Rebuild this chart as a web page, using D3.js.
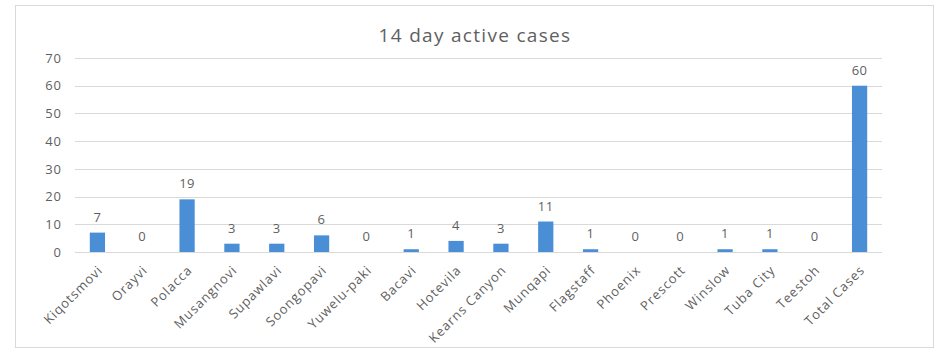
<!DOCTYPE html>
<html>
<head>
<meta charset="utf-8">
<script src="https://cdn.jsdelivr.net/npm/d3@7/dist/d3.min.js"></script>
<style>
  html, body { margin: 0; padding: 0; background: #fff; }
  svg { display: block; }
</style>
</head>
<body>
<svg id="chart" width="940" height="351"></svg>
<script>
// Communities reporting active cases over the last 14 days
const categories = ["Kiqotsmovi", "Orayvi", "Polacca", "Musangnovi", "Supawlavi", "Soongopavi",
  "Yuwelu-paki", "Bacavi", "Hotevila", "Kearns Canyon", "Munqapi", "Flagstaff",
  "Phoenix", "Prescott", "Winslow", "Tuba City", "Teestoh", "Total Cases"];
const cases = [7, 0, 19, 3, 3, 6, 0, 1, 4, 3, 11, 1, 0, 0, 1, 1, 0, 60];
const yTicks = [0, 10, 20, 30, 40, 50, 60, 70];
const chartTitle = "14 day active cases";

const svg = d3.select("#chart");
const W = 940, H = 351;
const margin = { left: 75, right: 58, top: 58, bottom: 99 };
const textColor = "#5f5f5f";
const font = "'Open Sans', 'DejaVu Sans', Arial, sans-serif";

// chart area frame
svg.append("rect")
  .attr("x", 15.5).attr("y", 5.5)
  .attr("width", 918).attr("height", 342)
  .attr("fill", "#fff").attr("stroke", "#d9d9d9").attr("stroke-width", 1);

const x = d3.scaleBand()
  .domain(categories)
  .range([margin.left, W - margin.right])
  .paddingInner(0.66).paddingOuter(0.33);

const y = d3.scaleLinear()
  .domain([0, 70])
  .range([H - margin.bottom, margin.top]);

// horizontal gridlines
svg.append("g")
  .selectAll("line")
  .data(yTicks)
  .join("line")
  .attr("x1", margin.left).attr("x2", W - margin.right)
  .attr("y1", d => Math.round(y(d)) + 0.5).attr("y2", d => Math.round(y(d)) + 0.5)
  .attr("stroke", "#d9d9d9").attr("stroke-width", 1);

// y axis labels
const yAxis = d3.axisLeft(y).tickValues(yTicks).tickSize(0).tickPadding(13);
const gy = svg.append("g")
  .attr("transform", `translate(${margin.left},0)`)
  .call(yAxis);
gy.select(".domain").remove();
gy.selectAll("text")
  .attr("fill", textColor)
  .style("font-family", font)
  .style("font-size", "13px")
  .style("letter-spacing", "1px");

// x axis labels, rotated 45 degrees and ending under each bar
const xAxis = d3.axisBottom(x).tickSize(0).tickPadding(0);
const gx = svg.append("g")
  .attr("transform", `translate(0,${y(0)})`)
  .call(xAxis);
gx.select(".domain").remove();
gx.selectAll("text")
  .attr("fill", textColor)
  .style("font-family", font)
  .style("font-size", "13px")
  .style("letter-spacing", "0.9px")
  .attr("text-anchor", "end")
  .attr("x", 0).attr("y", 0).attr("dy", 0)
  .attr("transform", "translate(6,19) rotate(-45)");

// bars
const rows = categories.map((c, i) => ({ c, v: cases[i] }));
svg.append("g")
  .selectAll("rect")
  .data(rows)
  .join("rect")
  .attr("x", d => x(d.c))
  .attr("width", x.bandwidth())
  .attr("y", d => y(d.v))
  .attr("height", d => y(0) - y(d.v))
  .attr("fill", "#4a8fd6");

// value labels
svg.append("g")
  .selectAll("text")
  .data(rows)
  .join("text")
  .attr("x", d => x(d.c) + x.bandwidth() / 2)
  .attr("y", d => y(d.v) - 11)
  .attr("text-anchor", "middle")
  .attr("fill", textColor)
  .style("font-family", font)
  .style("font-size", "13px")
  .style("letter-spacing", "0.5px")
  .text(d => d.v);

// title
svg.append("text")
  .attr("x", 475).attr("y", 42)
  .attr("text-anchor", "middle")
  .attr("fill", textColor)
  .style("font-family", font)
  .style("font-size", "19px")
  .style("letter-spacing", "1.3px")
  .text(chartTitle);
</script>
</body>
</html>
